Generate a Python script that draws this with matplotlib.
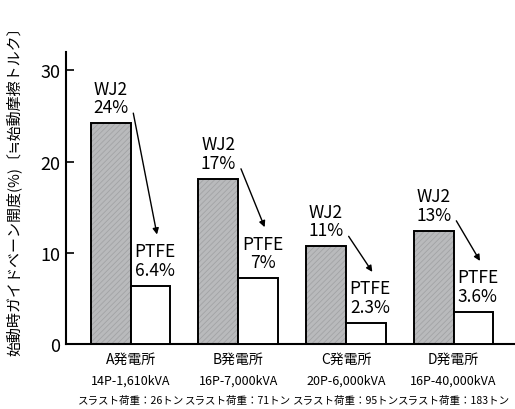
import matplotlib
matplotlib.use("Agg")
import matplotlib.pyplot as plt
import numpy as np

plt.rcParams['font.family'] = ['Noto Sans CJK JP', 'DejaVu Sans']
plt.rcParams['hatch.linewidth'] = 0.6

# ---- data ----
plants = ["A発電所", "B発電所", "C発電所", "D発電所"]
specs = ["14P-1,610kVA", "16P-7,000kVA", "20P-6,000kVA", "16P-40,000kVA"]
thrust = ["スラスト荷重：26トン", "スラスト荷重：71トン", "スラスト荷重：95トン", "スラスト荷重：183トン"]
wj2_vals = [24.2, 18.1, 10.7, 12.4]
ptfe_vals = [6.4, 7.2, 2.3, 3.5]
wj2_labels = ["WJ2\n24%", "WJ2\n17%", "WJ2\n11%", "WJ2\n13%"]
ptfe_labels = ["PTFE\n6.4%", "PTFE\n7%", "PTFE\n2.3%", "PTFE\n3.6%"]
yticks = [0, 10, 20, 30]
ylabel = "始動時ガイドベーン開度(%)〔≒始動摩擦トルク〕"

fig = plt.figure(figsize=(5.15, 4.1), dpi=100)
ax = fig.add_axes([66/515, 65/410, (515-66)/515, (345-53)/410])

x = np.arange(len(plants))
w = 0.37
xw = x - w/2
xp = x + w/2

# WJ2 bars: gray hatched fill, then black outline
ax.bar(xw, wj2_vals, width=w, color='#b9babc', edgecolor='#a2a3a5', hatch='//////', linewidth=0, zorder=2)
ax.bar(xw, wj2_vals, width=w, facecolor='none', edgecolor='black', linewidth=1.4, zorder=3)
ax.bar(xp, ptfe_vals, width=w, facecolor='white', edgecolor='black', linewidth=1.4, zorder=3)

fs = 12.5
for i in range(len(plants)):
    ax.annotate(wj2_labels[i], xy=(xw[i], wj2_vals[i]), xytext=(0, 5), textcoords='offset points',
                ha='center', va='bottom', fontsize=fs, linespacing=1.05)
    ax.annotate(ptfe_labels[i], xy=(xp[i] + 0.04, ptfe_vals[i]), xytext=(0, 5), textcoords='offset points',
                ha='center', va='bottom', fontsize=fs, linespacing=1.05)
    ax.annotate('', xy=(xp[i] + 0.06, ptfe_vals[i] + 5.6), xytext=(xw[i] + 0.21, wj2_vals[i] + 1.1),
                arrowprops=dict(arrowstyle='-|>', color='black', lw=1.0, mutation_scale=9,
                                shrinkA=0, shrinkB=0))
    ax.annotate(plants[i], xy=(x[i], 0), xycoords=('data', 'axes fraction'), xytext=(0, -11),
                textcoords='offset points', ha='center', va='center', fontsize=10)
    ax.annotate(specs[i], xy=(x[i], 0), xycoords=('data', 'axes fraction'), xytext=(0, -26),
                textcoords='offset points', ha='center', va='center', fontsize=9)
    ax.annotate(thrust[i], xy=(x[i], 0), xycoords=('data', 'axes fraction'), xytext=(0, -40),
                textcoords='offset points', ha='center', va='center', fontsize=7.6)

ax.set_xlim(-0.6, 3.57)
ax.set_ylim(0, 32)
ax.set_yticks(yticks)
ax.set_yticklabels([str(t) for t in yticks], fontsize=13)
ax.tick_params(axis='y', direction='in', length=6, width=1.2, pad=4)
ax.set_xticks([])
for s in ['top', 'right']:
    ax.spines[s].set_visible(False)
for s in ['left', 'bottom']:
    ax.spines[s].set_linewidth(1.5)

fig.text(14/515, 1 - 188/410, ylabel, rotation=90, ha='center', va='center', fontsize=10.8)

fig.savefig('out.png', dpi=100)
